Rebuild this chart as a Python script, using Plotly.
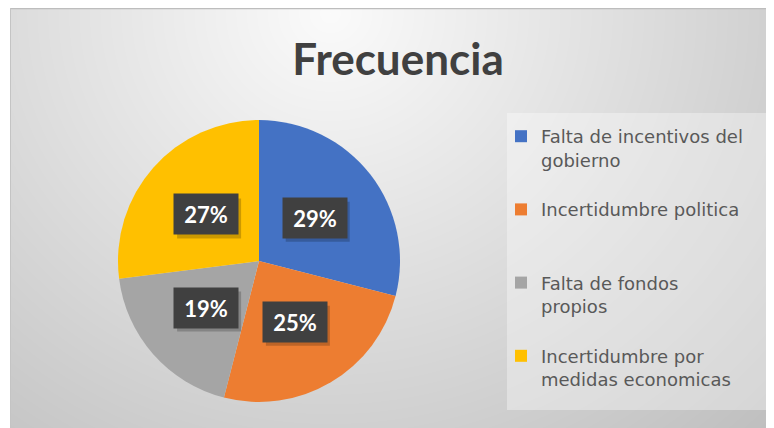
import base64
import math
import struct
import zlib

import numpy as np
import plotly.graph_objects as go

W, H = 774, 428
OFF = 8  # page body margin: the figure is drawn 8px in from the window corner

labels = ['Falta de incentivos del gobierno', 'Incertidumbre politica',
          'Falta de fondos propios', 'Incertidumbre por medidas economicas']
legend_names = ['Falta de incentivos del<br>gobierno<br> ', 'Incertidumbre politica<br> <br> ',
                'Falta de fondos<br>propios<br> ', 'Incertidumbre por<br>medidas economicas<br> ']
values = [29, 25, 19, 27]
colors = ['#4472C4', '#ED7D31', '#A5A5A5', '#FFC000']


def px(x):
    return (x - OFF) / W


def py(y):
    return 1 - (y - OFF) / H


def gradient_png(w, h):
    # radial grey background like the excel chart area, lightest near the title
    yy, xx = np.mgrid[0:h, 0:w]
    d = np.sqrt(((xx - 320) / 460.0) ** 2 + ((yy - 5) / 430.0) ** 2)
    img = np.clip(251 - 44 * d, 0, 255).astype(np.uint8)
    raw = b''.join(b'\x00' + img[i].tobytes() for i in range(h))

    def chunk(tag, data):
        c = struct.pack('>I', len(data)) + tag + data
        return c + struct.pack('>I', zlib.crc32(tag + data) & 0xffffffff)

    png = b'\x89PNG\r\n\x1a\n'
    png += chunk(b'IHDR', struct.pack('>IIBBBBB', w, h, 8, 0, 0, 0, 0))
    png += chunk(b'IDAT', zlib.compress(raw, 9))
    png += chunk(b'IEND', b'')
    return 'data:image/png;base64,' + base64.b64encode(png).decode()


# pie placement (window pixels)
cx, cy, rad = 259, 261, 141

fig = go.Figure()
fig.add_trace(go.Pie(labels=legend_names, values=values, sort=False, direction='clockwise', rotation=0,
                     marker=dict(colors=colors, line=dict(width=0)), textinfo='none',
                     domain=dict(x=[px(cx - rad), px(cx + rad)], y=[py(cy + rad), py(cy - rad)]),
                     hoverinfo='percent'))

# data labels: dark boxes at half radius, midway through each slice
total = float(sum(values))
cum = 0
for v in values:
    mid = (cum + v / 2.0) / total * 2 * math.pi
    cum += v
    lx = cx + 0.5 * rad * math.sin(mid)
    ly = cy - 0.5 * rad * math.cos(mid)
    pct = '%d%%' % round(100 * v / total)
    # soft shadow behind the box
    fig.add_shape(type='rect', xref='paper', yref='paper', x0=px(lx - 29), x1=px(lx + 35),
                  y0=py(ly + 24), y1=py(ly - 16), fillcolor='rgba(0,0,0,0.2)', line=dict(width=0), layer='above')
    fig.add_annotation(x=px(lx), y=py(ly), xref='paper', yref='paper', showarrow=False,
                       xanchor='center', yanchor='middle', width=58, height=34, borderpad=3,
                       text='<b>%s</b>' % pct, bgcolor='#404040',
                       font=dict(size=22, color='white', family='Lato'))

# chart area starts at window (10, 8)
fig.add_layout_image(dict(source=gradient_png(W - 10, H - 8), xref='paper', yref='paper', x=px(10), y=py(8),
                          sizex=(W - 10) / W, sizey=(H - 8) / H, xanchor='left', yanchor='top',
                          sizing='stretch', layer='below'))

fig.add_shape(type='line', xref='paper', yref='paper', x0=px(10), x1=1, y0=py(8.5), y1=py(8.5),
              line=dict(color='#bdbdbd', width=1.5), layer='below')
fig.add_shape(type='line', xref='paper', yref='paper', x0=px(10.5), x1=px(10.5), y0=0, y1=py(8),
              line=dict(color='#c4c4c4', width=1), layer='below')
# legend backdrop
fig.add_shape(type='rect', xref='paper', yref='paper', x0=px(507), x1=px(770), y0=py(410), y1=py(113),
              fillcolor='rgba(255,255,255,0.35)', line=dict(width=0), layer='below')

fig.update_layout(
    width=W, height=H,
    margin=dict(l=0, r=0, t=0, b=0),
    paper_bgcolor='white',
    title=dict(text='<b>Frecuencia</b>', x=px(398), y=py(60), xanchor='center', yanchor='middle',
               font=dict(size=44, color='#404040', family='Lato')),
    legend=dict(x=px(501), y=py(118), xanchor='left', yanchor='top', valign='top',
                bgcolor='rgba(0,0,0,0)', font=dict(size=18, color='#595959', family='DejaVu Sans')),
)

fig.write_html('out.html')
